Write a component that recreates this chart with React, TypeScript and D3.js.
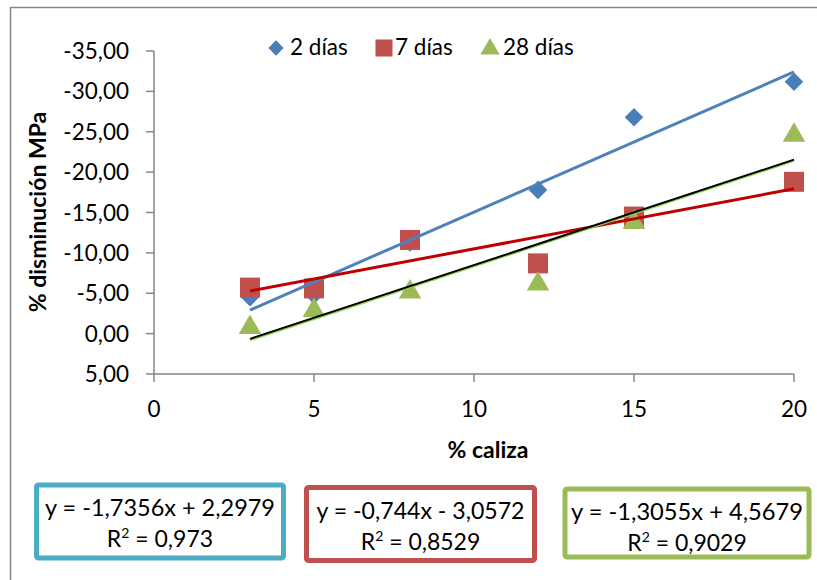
import React from "react";
import * as d3 from "d3";

// % caliza
const xValues = [3, 5, 8, 12, 15, 20];

// % disminución MPa per curing age
const seriesNames = ["2 días", "7 días", "28 días"];
const dias2 = [-4.5, -4.8, -11.3, -17.8, -26.8, -31.2];
const dias7 = [-5.7, -5.6, -11.6, -8.7, -14.5, -18.8];
const dias28 = [-1.0, -3.1, -5.4, -6.4, -14.0, -24.8];

// linear trendlines as printed by Excel
const slopes = [-1.7356, -0.744, -1.3055];
const intercepts = [2.2979, -3.0572, 4.5679];
const equationLabels = ["y = -1,7356x + 2,2979", "y = -0,744x - 3,0572", "y = -1,3055x + 4,5679"];
const r2Labels = ["0,973", "0,8529", "0,9029"];

const yTicks = [-35, -30, -25, -20, -15, -10, -5, 0, 5];
const xTicks = [0, 5, 10, 15, 20];

const FONT = "Lato, 'Open Sans', sans-serif";
const markerColors = ["#4a7ebb", "#c0504d", "#9bbb59"];
const boxColors = ["#4bacc6", "#c0504d", "#9bbb59"];

const fmt = (v: number) => v.toFixed(2).replace(".", ",");

const App: React.FC = () => {
  const width = 817;
  const height = 580;

  const x = d3.scaleLinear().domain([0, 20]).range([154, 794]);
  // reversed axis: -35 at top, 5 at bottom
  const y = d3.scaleLinear().domain([-35, 5]).range([51, 374]);

  const series = [dias2, dias7, dias28];
  const xMin = d3.min(xValues) as number;
  const xMax = d3.max(xValues) as number;

  const trend = (i: number) =>
    d3.line<number>()
      .x((d) => x(d))
      .y((d) => y(slopes[i] * d + intercepts[i]))([xMin, xMax]) as string;

  const symbolTypes = [d3.symbolDiamond2, d3.symbolSquare, d3.symbolTriangle];
  const shapes = [
    d3.symbol().type(symbolTypes[0]).size(220)() as string,
    d3.symbol().type(symbolTypes[1]).size(400)() as string,
    d3.symbol().type(symbolTypes[2]).size(220)() as string,
  ];

  const boxes = [
    { x: 36.5, y: 485, w: 247, h: 73, len: 230 },
    { x: 306.5, y: 487.5, w: 228, h: 73, len: 208 },
    { x: 565, y: 489, w: 244, h: 68, len: 232 },
  ];

  const legendItems = [
    { mx: 276, tx: 290, size: 150 },
    { mx: 384, tx: 395, size: 290 },
    { mx: 490, tx: 503, size: 160 },
  ];

  return (
    <svg
      width={width}
      height={height}
      style={{ position: "absolute", left: 0, top: 0, background: "#fff" }}
      fontFamily={FONT}
    >
      {/* chart frame */}
      <path d={`M10.5,${height} V7.5 H${width}`} fill="none" stroke="#868686" strokeWidth={1.5} />

      {/* y axis */}
      <line x1={154} x2={154} y1={y(-35)} y2={y(5)} stroke="#868686" strokeWidth={1.5} />
      {yTicks.map((t) => (
        <g key={t}>
          <line x1={146} x2={154} y1={y(t)} y2={y(t)} stroke="#868686" strokeWidth={1.5} />
          <text x={129} y={y(t)} dy="0.36em" textAnchor="end" fontSize={22.5} fill="#000">
            {fmt(t)}
          </text>
        </g>
      ))}

      {/* x axis */}
      <line x1={x(0)} x2={x(20)} y1={374} y2={374} stroke="#868686" strokeWidth={1.5} />
      {xTicks.map((t) => (
        <g key={t}>
          <line x1={x(t)} x2={x(t)} y1={374} y2={382} stroke="#868686" strokeWidth={1.5} />
          <text x={x(t)} y={417} textAnchor="middle" fontSize={22.5} fill="#000">
            {t}
          </text>
        </g>
      ))}

      {/* axis titles */}
      <text x={488} y={458} textAnchor="middle" fontSize={23} fontWeight="bold">
        % caliza
      </text>
      <text
        transform="translate(46,212) rotate(-90)"
        textAnchor="middle"
        fontSize={23}
        fontWeight="bold"
      >
        % disminución MPa
      </text>

      {/* markers */}
      {series.map((vals, i) => (
        <g key={seriesNames[i]}>
          {vals.map((v, j) => (
            <path
              key={j}
              d={shapes[i]}
              transform={`translate(${x(xValues[j])},${y(v) + (i === 2 ? 2 : 0)})`}
              fill={markerColors[i]}
            />
          ))}
        </g>
      ))}

      {/* trendlines */}
      <path d={trend(0)} stroke="#4f81bd" strokeWidth={3} fill="none" />
      <path d={trend(1)} stroke="#c00000" strokeWidth={3} fill="none" />
      <path d={trend(2)} transform="translate(0,1)" stroke="#92d050" strokeWidth={2.5} fill="none" />
      <path d={trend(2)} stroke="#000" strokeWidth={2} fill="none" />

      {/* legend */}
      {legendItems.map((l, i) => (
        <g key={seriesNames[i]}>
          <path
            d={d3.symbol().type(symbolTypes[i]).size(l.size)() as string}
            transform={`translate(${l.mx},${i === 2 ? 49 : 48})`}
            fill={markerColors[i]}
          />
          <text x={l.tx} y={55} fontSize={22.5} fill="#000">
            {seriesNames[i]}
          </text>
        </g>
      ))}

      {/* equation boxes */}
      {boxes.map((b, i) => (
        <g key={i}>
          <rect x={b.x} y={b.y} width={b.w} height={b.h} rx={2} fill="#fff" stroke={boxColors[i]} strokeWidth={5} />
          <text
            x={b.x + b.w / 2}
            y={b.y + 31}
            textAnchor="middle"
            fontSize={23}
            fill="#000"
            textLength={b.len}
            lengthAdjust="spacingAndGlyphs"
          >
            {equationLabels[i]}
          </text>
          <text x={b.x + b.w / 2} y={b.y + 62} textAnchor="middle" fontSize={23} fill="#000">
            R<tspan fontSize={14} dy={-9}>2</tspan>
            <tspan dy={9}> = {r2Labels[i]}</tspan>
          </text>
        </g>
      ))}
    </svg>
  );
};

export default App;
